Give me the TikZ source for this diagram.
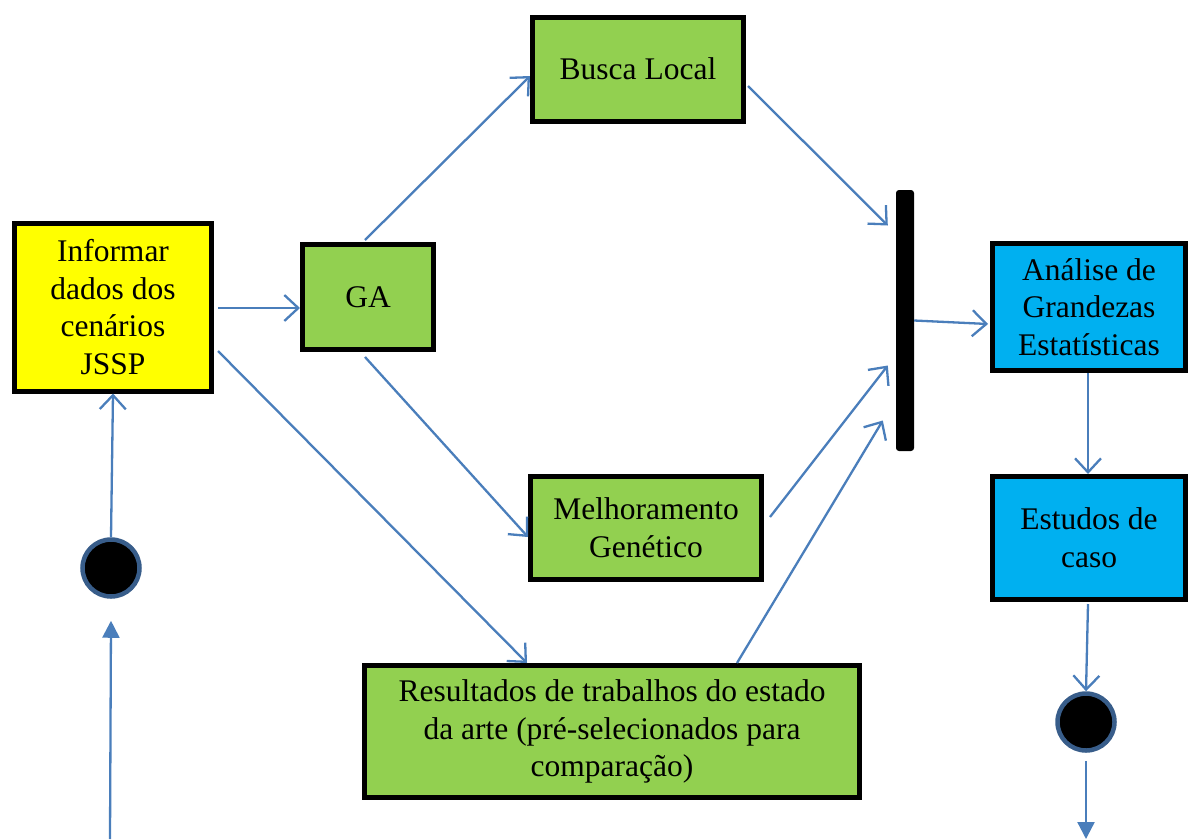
\documentclass[tikz,border=0pt]{standalone}
\usepackage{fontspec}
\setmainfont{Liberation Serif}
\usetikzlibrary{arrows.meta}
\definecolor{boxgreen}{HTML}{92D050}
\definecolor{boxyellow}{HTML}{FFFF00}
\definecolor{boxblue}{HTML}{00B0F0}
\definecolor{arrowblue}{HTML}{4A7EBB}
\definecolor{ringblue}{HTML}{385D8A}
\tikzset{
  box/.style={draw=black, line width=5pt, inner sep=0pt, align=center,
    font=\fontsize{31.5}{37.8}\selectfont},
  startnode/.style={circle, fill=black, draw=ringblue, line width=4.5pt,
    minimum size=57pt, inner sep=0pt},
  conn/.style={draw=arrowblue, line width=2.3pt,
    -{Straight Barb[length=14pt,width=26pt]}},
  connfill/.style={draw=arrowblue, line width=2.3pt,
    -{Triangle[length=17pt,width=17pt]}},
}
\begin{document}
\begin{tikzpicture}[x=1pt,y=-1pt]
\useasboundingbox (0,0) rectangle (1190,839);

\node[box, fill=boxyellow, minimum width=197pt, minimum height=168pt] (inf) at (113,307) {Informar\\dados dos\\cenários\\JSSP};
\node[box, fill=boxgreen, minimum width=131pt, minimum height=105pt] (ga) at (368,297) {GA};
\node[box, fill=boxgreen, minimum width=211pt, minimum height=104pt] (bl) at (638,69) {Busca Local};
\node[box, fill=boxgreen, minimum width=231pt, minimum height=103pt] (mg) at (646,528) {Melhoramento\\Genético};
\node[box, fill=boxgreen, minimum width=495pt, minimum height=132pt] (res) at (612,731.5) {Resultados de trabalhos do estado\\da arte (pré-selecionados para\\comparação)};
\node[box, fill=boxblue, minimum width=193pt, minimum height=127pt] (an) at (1089,307) {Análise de\\Grandezas\\Estatísticas};
\node[box, fill=boxblue, minimum width=193pt, minimum height=123pt] (est) at (1089,538) {Estudos de\\caso};
\node[fill=black, rounded corners=3pt, minimum width=18pt, minimum height=261pt, inner sep=0pt] (bar) at (905,320.5) {};

\node[startnode] (c1) at (111,568) {};
\node[startnode] (c2) at (1086,722) {};

\coordinate (in0) at (110,839);
\coordinate (out0) at (1086,839);

\draw[connfill] (in0) -- ([yshift=-22pt]c1.south);
\draw[conn] (c1.north) -- (inf.south);
\draw[conn] ([xshift=4pt,yshift=-1pt]inf.east) -- ([yshift=-11pt]ga.west);
\draw[conn] ([xshift=4pt,yshift=-44pt]inf.east) -- ([xshift=165pt]res.north west);
\draw[conn] ([xshift=-3pt,yshift=2pt]ga.north) -- ([yshift=-7pt]bl.west);
\draw[conn] ([xshift=-3pt,yshift=-5pt]ga.south) -- ([yshift=-9pt]mg.west);
\draw[conn] ([xshift=2pt,yshift=-17pt]bl.east) -- ([xshift=-8pt,yshift=95pt]bar.west);
\draw[conn] ([xshift=6pt,yshift=11pt]mg.east) -- ([xshift=-8pt,yshift=-45pt]bar.west);
\draw[conn] ([xshift=375pt]res.north west) -- ([xshift=-13pt,yshift=-100pt]bar.west);
\draw[conn] (bar.east) -- ([xshift=-2pt,yshift=-17pt]an.west);
\draw[conn] ([xshift=-1pt]an.south) -- ([xshift=-1pt]est.north);
\draw[conn] ([xshift=-1pt,yshift=-2pt]est.south) -- (c2.north);
\draw[connfill] ([yshift=-8pt]c2.south) -- (out0);
\end{tikzpicture}
\end{document}
